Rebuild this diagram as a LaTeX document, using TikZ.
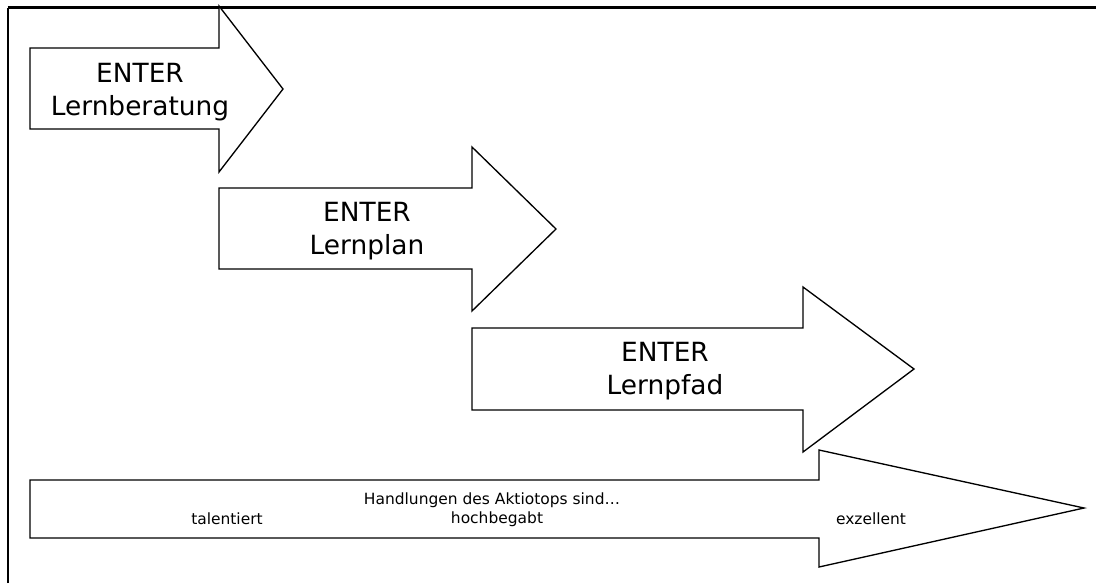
\documentclass[tikz,border=0pt]{standalone}
\usepackage{fontspec}
\setmainfont{DejaVu Sans}

\begin{document}
\begin{tikzpicture}[x=0.75pt,y=0.75pt,yscale=-1,xscale=1]
\useasboundingbox (0,0) rectangle (1096,583);
%Shape: Frame
\draw [line width=1.1pt] (8,583) -- (8,7.5) ;
\draw [line width=1.7pt] (7.5,7.5) -- (1096,7.5) ;
%Shape: Right Arrow [id:lernberatung]
\draw [line width=1pt, fill=white] (30,48) -- (219,48) -- (219,6) -- (283,89) -- (219,172) -- (219,129) -- (30,129) -- cycle ;
%Shape: Right Arrow [id:lernplan]
\draw [line width=1pt, fill=white] (219,188) -- (472,188) -- (472,147) -- (556,229) -- (472,311) -- (472,269) -- (219,269) -- cycle ;
%Shape: Right Arrow [id:lernpfad]
\draw [line width=1pt, fill=white] (472,328) -- (803,328) -- (803,287) -- (914,369) -- (803,452) -- (803,410) -- (472,410) -- cycle ;
%Shape: Right Arrow [id:aktiotop]
\draw [line width=1pt, fill=white] (30,480) -- (819,480) -- (819,450) -- (1084,508) -- (819,567) -- (819,538) -- (30,538) -- cycle ;

% Text Node
\draw (140,92) node (beratung) [inner sep=0.75pt] [font=\fontsize{19.8}{24.5}\selectfont] [align=center] {ENTER\\Lernberatung};
% Text Node
\draw (367,231) node (plan) [inner sep=0.75pt] [font=\fontsize{19.8}{24.5}\selectfont] [align=center] {ENTER\\Lernplan};
% Text Node
\draw (665,371) node (pfad) [inner sep=0.75pt] [font=\fontsize{19.8}{24.5}\selectfont] [align=center] {ENTER\\Lernpfad};
% Text Node
\draw (492,500) node (handlungen) [inner sep=0.75pt] [font=\fontsize{11.6}{13}\selectfont] {Handlungen des Aktiotops sind…};
% Text Node
\draw (227,519) node (talentiert) [inner sep=0.75pt] [font=\fontsize{11.6}{13}\selectfont] {talentiert};
% Text Node
\draw (497,519) node (hochbegabt) [inner sep=0.75pt] [font=\fontsize{11.6}{13}\selectfont] {hochbegabt};
% Text Node
\draw (871,519) node (exzellent) [inner sep=0.75pt] [font=\fontsize{11.6}{13}\selectfont] {exzellent};

\end{tikzpicture}
\end{document}
